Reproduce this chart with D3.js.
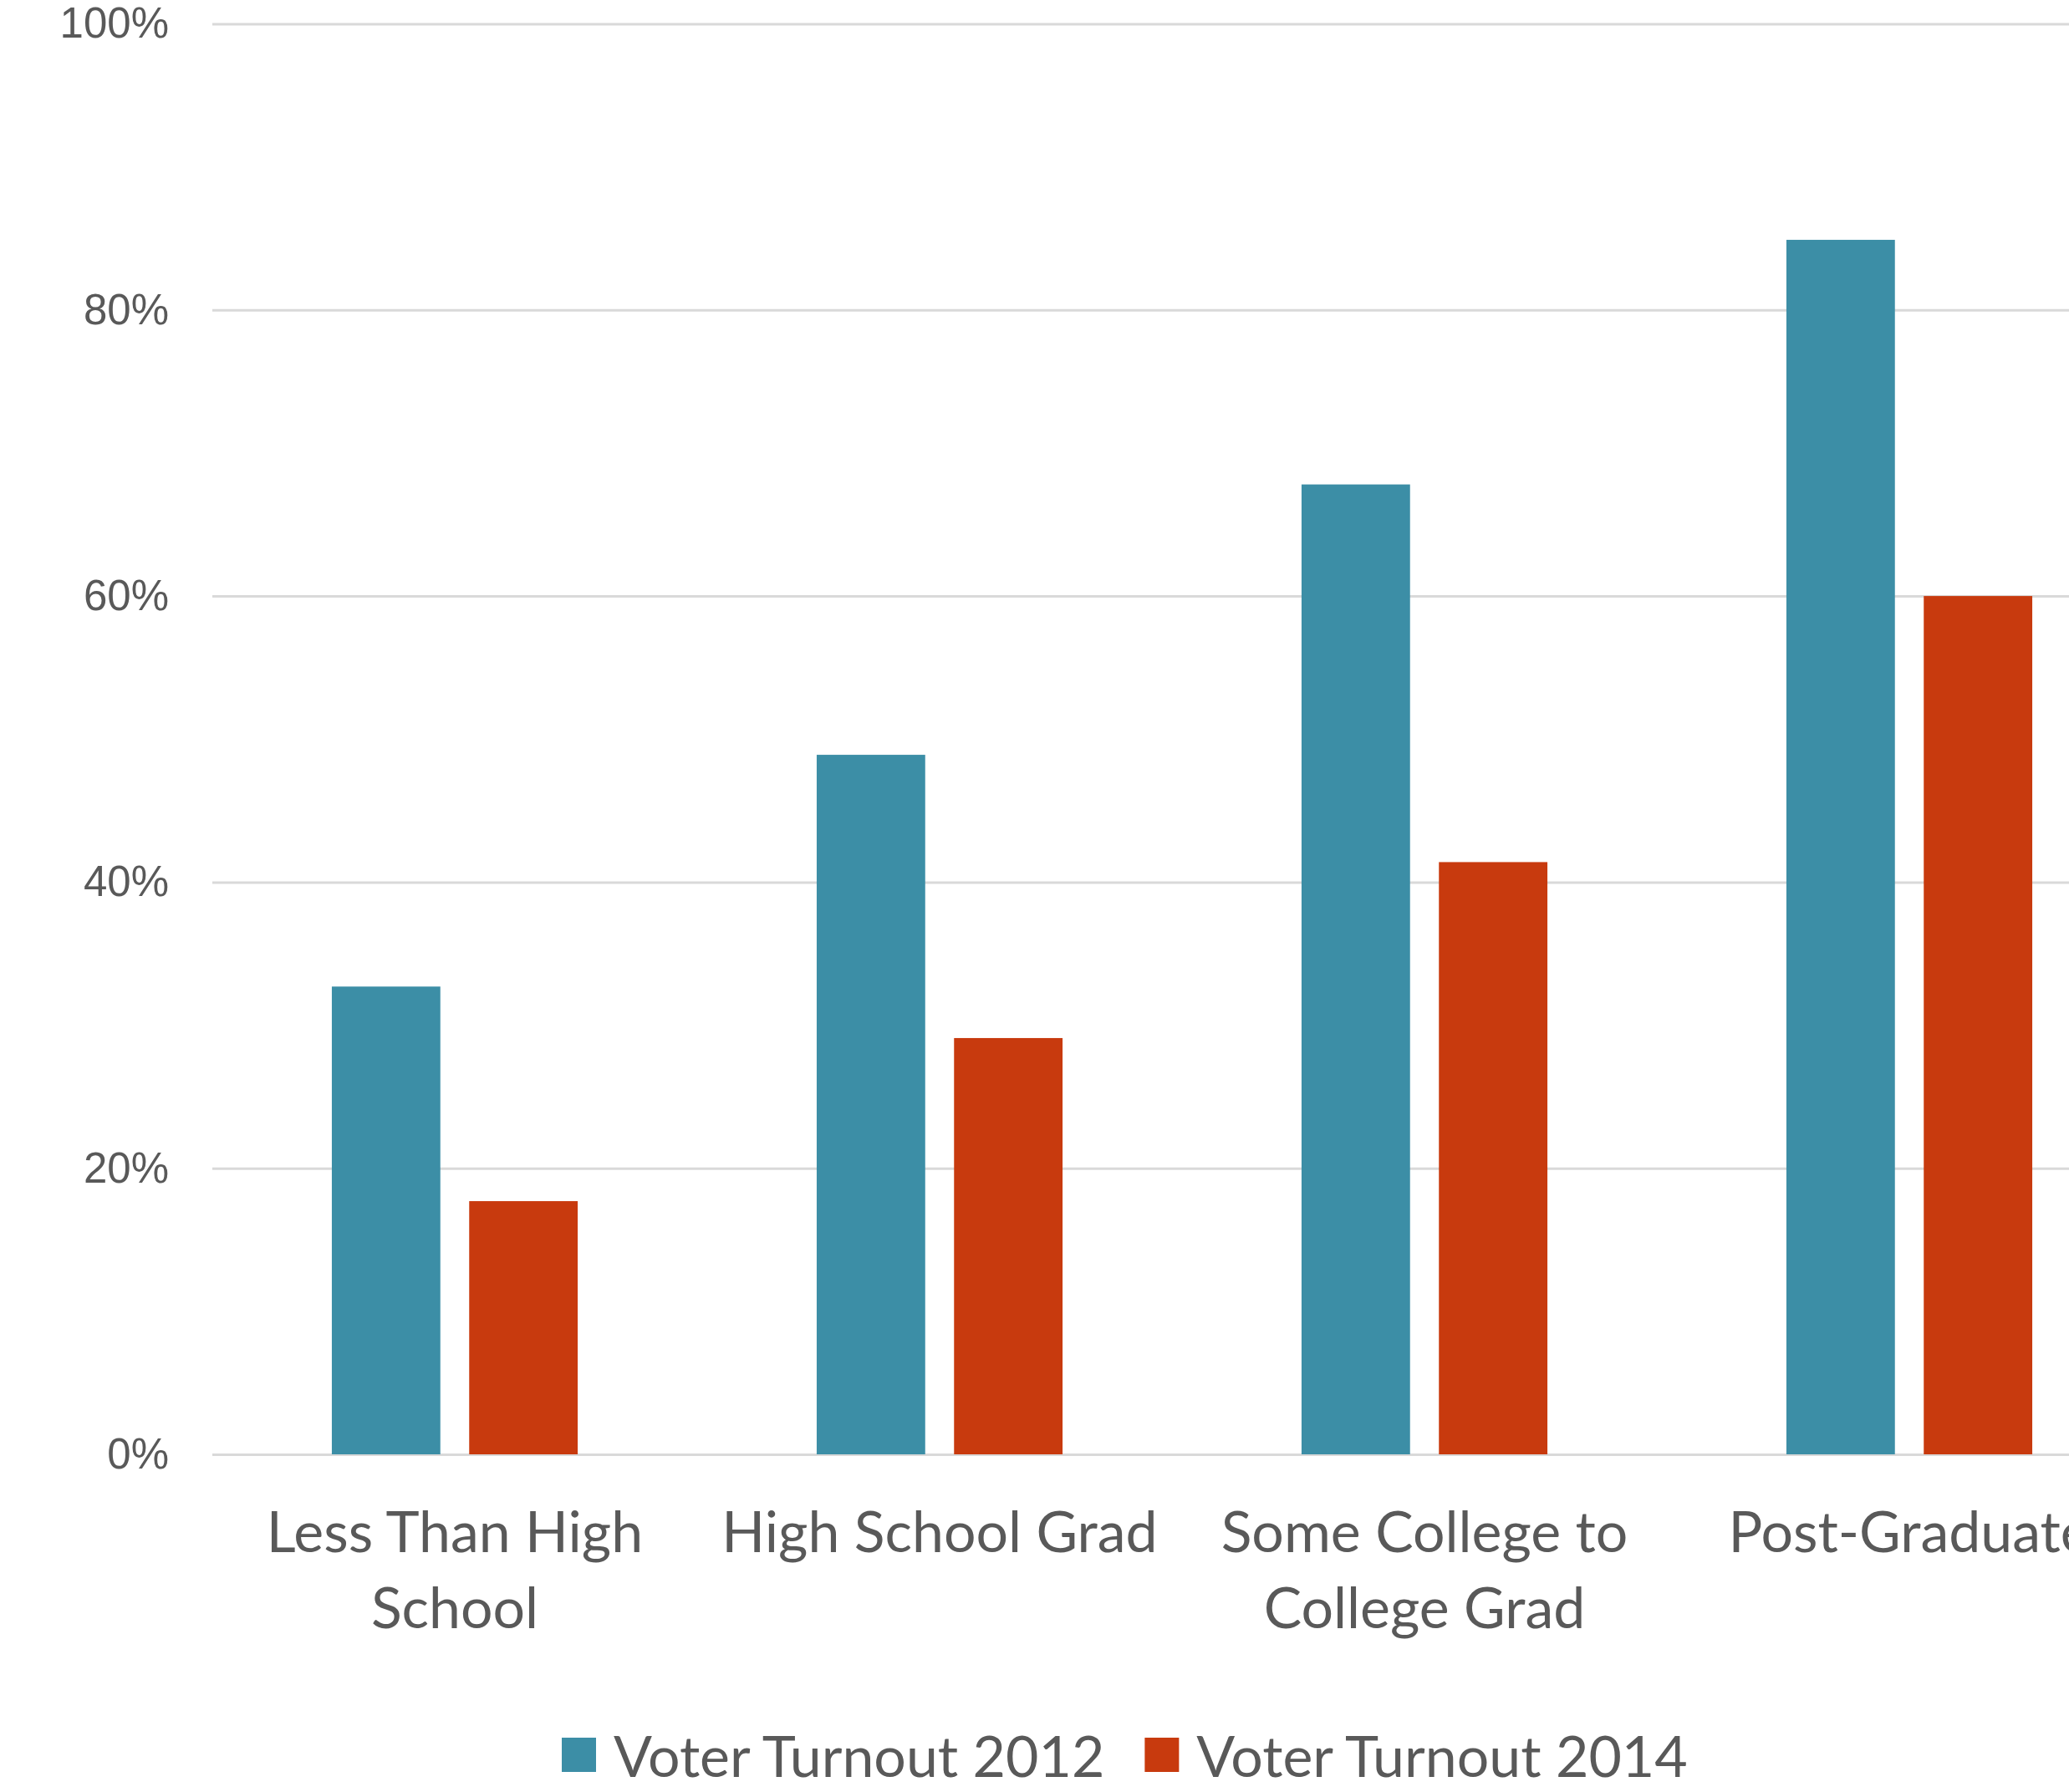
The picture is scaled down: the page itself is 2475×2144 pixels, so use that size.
<!DOCTYPE html>
<html>
<head>
<meta charset="utf-8">
<script src="https://cdn.jsdelivr.net/npm/d3@7"></script>
<style>
  body { margin: 0; background: #fff; }
  .y-axis text { font-family: "Liberation Sans", Arial, sans-serif; font-size: 51px; fill: #595959; }
  .x-axis text, .legend text { font-family: Lato, "Open Sans", sans-serif; font-size: 68px; fill: #595959; }
</style>
</head>
<body>
<div id="chart"></div>
<script>
// data
const categories = ["Less Than High School", "High School Grad", "Some College to College Grad", "Post-Graduate"];
const seriesNames = ["Voter Turnout 2012", "Voter Turnout 2014"];
const turnout2012 = [32.7, 48.9, 67.8, 84.9];
const turnout2014 = [17.7, 29.1, 41.4, 60.0];
const yTicks = [0, 20, 40, 60, 80, 100];
const colors = ["#3c8ea6", "#c83a0e"];

const width = 2475;
const height = 2144;
const plotLeft = 254;
const bandStep = 580;

const svg = d3.select("#chart").append("svg")
  .attr("width", width)
  .attr("height", height);

const x0 = d3.scaleBand()
  .domain(categories)
  .range([plotLeft, plotLeft + bandStep * categories.length])
  .padding(0);

const x1 = d3.scaleBand()
  .domain(seriesNames)
  .range([0, x0.bandwidth()])
  .paddingInner(0.21)
  .paddingOuter(0.87);

const y = d3.scaleLinear()
  .domain([0, 100])
  .range([1740, 28.5]);

const color = d3.scaleOrdinal().domain(seriesNames).range(colors);

// y axis + gridlines
const yAxis = svg.append("g")
  .attr("class", "y-axis")
  .attr("transform", `translate(${plotLeft}, 0)`)
  .call(d3.axisLeft(y)
    .tickValues(yTicks)
    .tickSize(-(width - plotLeft))
    .tickPadding(52)
    .tickFormat(d => d + "%"));

yAxis.select(".domain").remove();
yAxis.selectAll(".tick line")
  .attr("stroke", "#d9d9d9")
  .attr("stroke-width", 3);

// bars
const rows = categories.map((c, i) => ({
  category: c,
  values: [turnout2012[i], turnout2014[i]]
}));

svg.append("g")
  .selectAll("g")
  .data(rows)
  .join("g")
  .attr("transform", d => `translate(${x0(d.category)}, 0)`)
  .selectAll("rect")
  .data(d => d.values.map((v, i) => ({ key: seriesNames[i], value: v })))
  .join("rect")
  .attr("x", d => x1(d.key))
  .attr("y", d => y(d.value))
  .attr("width", x1.bandwidth())
  .attr("height", d => y(0) - y(d.value))
  .attr("fill", d => color(d.key));

// x axis labels
const xAxis = svg.append("g")
  .attr("class", "x-axis")
  .attr("transform", `translate(0, ${y(0)})`)
  .call(d3.axisBottom(x0).tickSize(0).tickPadding(69));

xAxis.select(".domain").remove();
xAxis.selectAll(".tick text").call(wrap, 540);

function wrap(texts, maxWidth) {
  texts.each(function () {
    const text = d3.select(this);
    const words = text.text().split(/\s+/);
    const yPos = text.attr("y");
    const dy = parseFloat(text.attr("dy"));
    const lineHeight = 1.34;
    let line = [];
    let lineNumber = 0;
    text.text(null);
    let tspan = text.append("tspan").attr("x", 0).attr("y", yPos).attr("dy", dy + "em");
    for (const word of words) {
      line.push(word);
      tspan.text(line.join(" "));
      if (tspan.node().getComputedTextLength() > maxWidth && line.length > 1) {
        line.pop();
        tspan.text(line.join(" "));
        line = [word];
        lineNumber++;
        tspan = text.append("tspan")
          .attr("x", 0)
          .attr("y", yPos)
          .attr("dy", (lineNumber * lineHeight + dy) + "em")
          .text(word);
      }
    }
  });
}

// legend
const legend = svg.append("g")
  .attr("class", "legend")
  .attr("transform", "translate(672, 2126)");

let legendX = 0;
seriesNames.forEach(name => {
  const item = legend.append("g").attr("transform", `translate(${legendX}, 0)`);
  item.append("rect")
    .attr("x", 0)
    .attr("y", -47)
    .attr("width", 41)
    .attr("height", 41)
    .attr("fill", color(name));
  const label = item.append("text")
    .attr("x", 62)
    .attr("y", 0)
    .text(name);
  legendX += 62 + label.node().getComputedTextLength() + 48;
});
</script>
</body>
</html>
